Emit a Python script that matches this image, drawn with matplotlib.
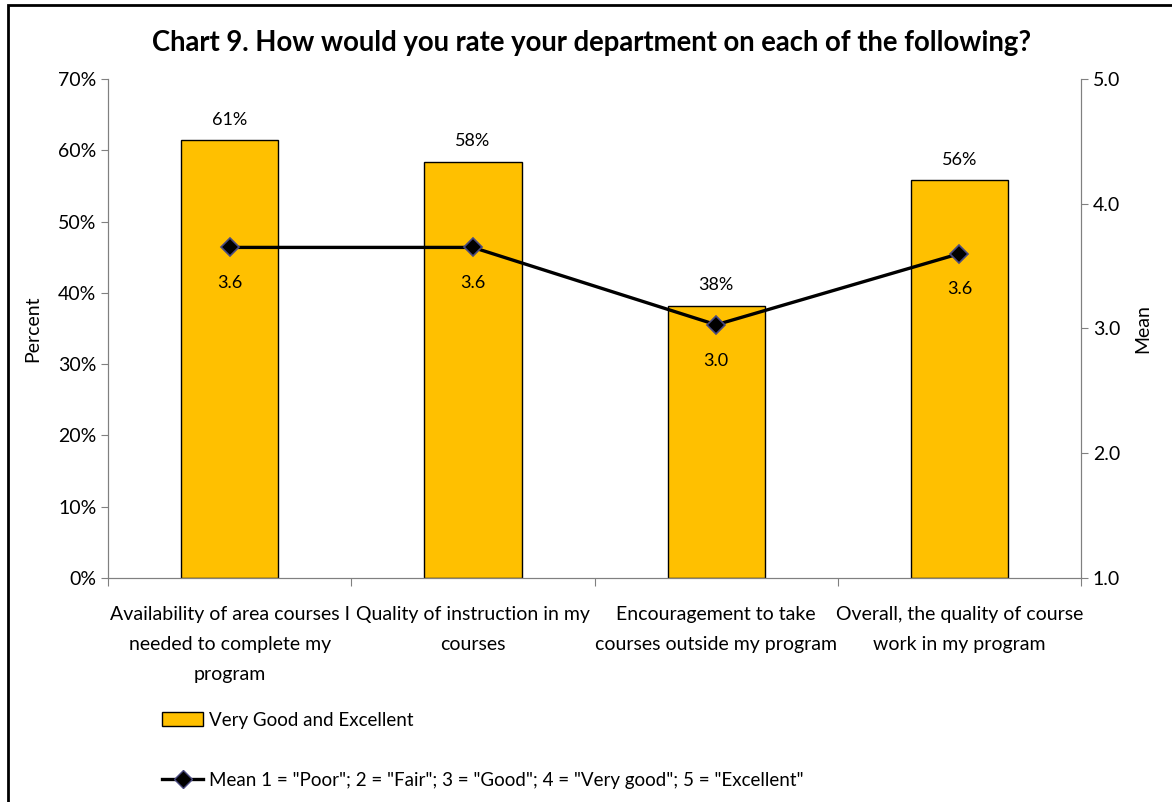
import matplotlib
matplotlib.use("Agg")
import matplotlib.pyplot as plt
from matplotlib.patches import Rectangle, Patch
from matplotlib.lines import Line2D
from matplotlib.ticker import FuncFormatter

plt.rcParams['font.family'] = ['Lato', 'DejaVu Sans']

categories = ["Availability of area courses I\nneeded to complete my\nprogram",
              "Quality of instruction in my\ncourses",
              "Encouragement to take\ncourses outside my program",
              "Overall, the quality of course\nwork in my program"]
pct = [61.4, 58.4, 38.2, 55.8]
pct_labels = ["61%", "58%", "38%", "56%"]
means = [3.65, 3.65, 3.03, 3.6]
mean_labels = ["3.6", "3.6", "3.0", "3.6"]

gray = "#808080"

fig = plt.figure(figsize=(11.72, 8.02), dpi=100)
ax = fig.add_axes([0.0922, 0.2793, 0.8302, 0.6222])
ax2 = ax.twinx()

x = list(range(len(categories)))
ax.bar(x, pct, width=0.4, color="#FFC000", edgecolor="black", linewidth=1, zorder=2)
for xi, v, s in zip(x, pct, pct_labels):
    ax.annotate(s, (xi, v), xytext=(0, 9), textcoords="offset points",
                ha="center", va="bottom", fontsize=13)

ax.set_xlim(-0.5, 3.5)
ax.set_ylim(0, 70)
ax.set_yticks(range(0, 71, 10))
ax.yaxis.set_major_formatter(FuncFormatter(lambda v, p: f"{v:.0f}%"))
ax.set_xticks([-0.5, 0.5, 1.5, 2.5, 3.5])
ax.set_xticklabels([])
ax.set_xticks(x, minor=True)
ax.set_xticklabels(categories, minor=True, fontsize=14, linespacing=1.95)
ax.tick_params(axis="x", which="minor", length=0, pad=20)
ax.tick_params(axis="x", which="major", length=6, color=gray, direction="out")
ax.tick_params(axis="y", length=5, color=gray, labelsize=14)
ax.set_ylabel("Percent", fontsize=14, labelpad=12)

ax2.plot(x, means, color="black", linewidth=2.4, marker="D", markersize=9,
         markerfacecolor="black", markeredgecolor="#4a4a80", markeredgewidth=1.2, zorder=3)
for xi, m, s in zip(x, means, mean_labels):
    ax2.annotate(s, (xi, m), xytext=(0, -20), textcoords="offset points",
                 ha="center", va="top", fontsize=13)
ax2.set_ylim(1, 5)
ax2.set_yticks([1, 2, 3, 4, 5])
ax2.yaxis.set_major_formatter(FuncFormatter(lambda v, p: f"{v:.1f}"))
ax2.tick_params(axis="y", length=5, color=gray, labelsize=14)
ax2.set_ylabel("Mean", fontsize=14, labelpad=10)

for a in (ax, ax2):
    a.spines["top"].set_visible(False)
    for side in ("left", "right", "bottom"):
        a.spines[side].set_color(gray)

fig.suptitle("Chart 9. How would you rate your department on each of the following?",
             fontsize=19.8, fontweight="bold", x=0.505, y=0.962)

handles = [Patch(facecolor="#FFC000", edgecolor="black", linewidth=1),
           Line2D([], [], color="black", linewidth=2.4, marker="D", markersize=9,
                  markerfacecolor="black", markeredgecolor="#4a4a80")]
fig.legend(handles, ["Very Good and Excellent",
                     'Mean 1 = "Poor"; 2 = "Fair"; 3 = "Good"; 4 = "Very good"; 5 = "Excellent"'],
           loc="upper left", bbox_to_anchor=(0.132, 0.122), bbox_transform=fig.transFigure,
           frameon=False, fontsize=13.5, handlelength=2.2, handleheight=0.8,
           handletextpad=0.3, labelspacing=2.3, borderaxespad=0)

fig.patches.append(Rectangle((0.0068, -0.5), 2, 1.4938, transform=fig.transFigure,
                             fill=False, edgecolor="black", linewidth=2))

fig.savefig("out.png", dpi=100)
